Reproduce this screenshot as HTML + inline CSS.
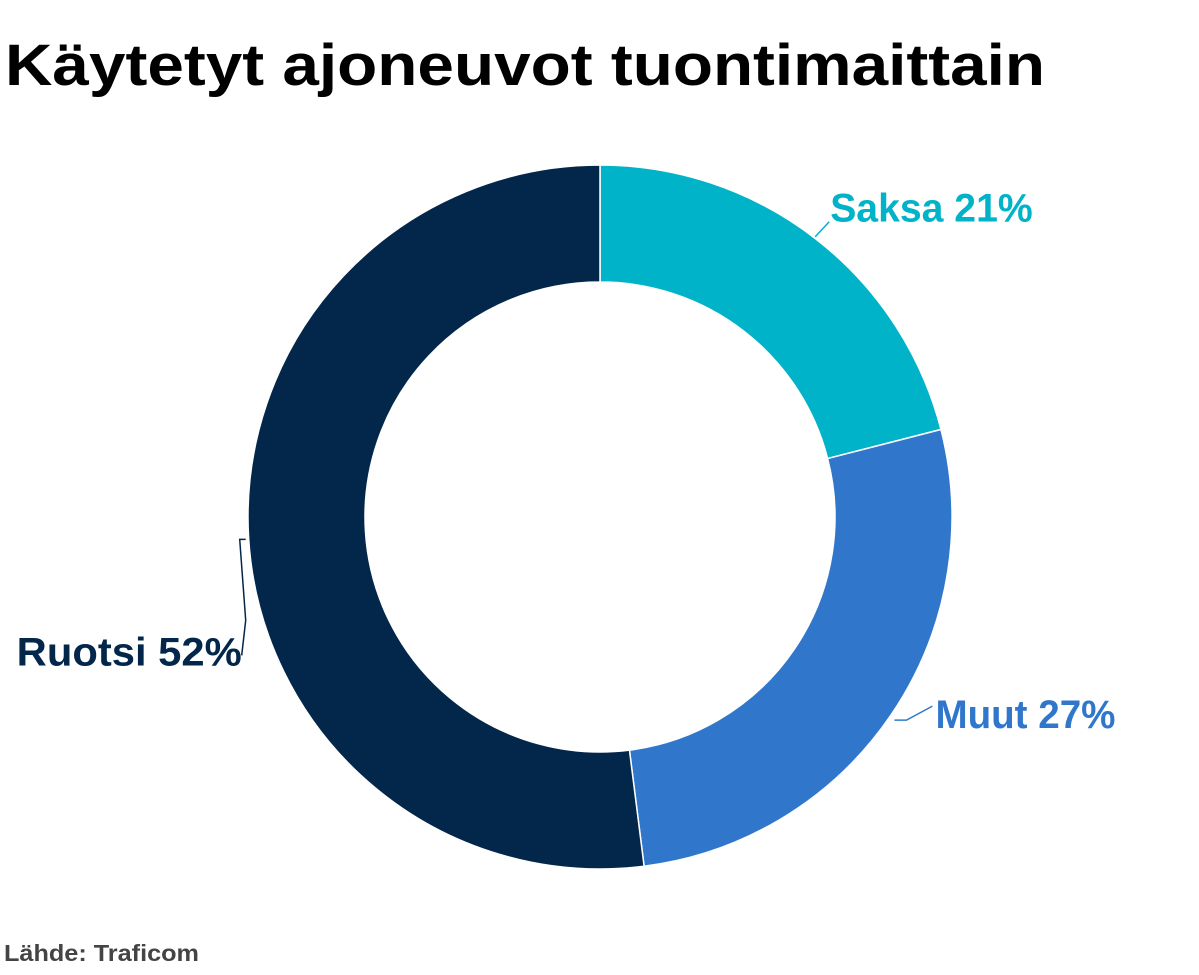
<!DOCTYPE html>
<html><head><meta charset="utf-8"><style>
body{margin:0;width:1199px;height:975px;background:#fff;font-family:"Liberation Sans",sans-serif;overflow:hidden}
svg{position:absolute;left:0;top:0}
</style></head><body>
<svg width="1199" height="975">
<text x="5" y="85" font-size="58" font-weight="bold" fill="#000" textLength="1040" lengthAdjust="spacingAndGlyphs">Käytetyt ajoneuvot tuontimaittain</text>
<g id="slices"></g>
<g id="labels"></g>
<text x="4" y="961" font-size="23" font-weight="bold" fill="#444" textLength="195" lengthAdjust="spacingAndGlyphs">Lähde: Traficom</text>
</svg>
<script>
const categories=["Saksa","Muut","Ruotsi"];
const values=[21,27,52];
const colors=["#00b3c8","#3077cc","#03264b"];
const cx=600,cy=517,R=352,r=235;
const ns="http://www.w3.org/2000/svg";
const total=values.reduce((a,b)=>a+b,0);
function pt(a,rad){return [cx+rad*Math.sin(a),cy-rad*Math.cos(a)];}
const gS=document.getElementById('slices'),gL=document.getElementById('labels');
let acc=0;
values.forEach((v,i)=>{
 const a0=acc/total*2*Math.PI;acc+=v;const a1=acc/total*2*Math.PI;
 const lg=(a1-a0)>Math.PI?1:0;
 const p0=pt(a0,R),p1=pt(a1,R),q1=pt(a1,r),q0=pt(a0,r);
 const p=document.createElementNS(ns,'path');
 p.setAttribute('d',`M${p0[0]},${p0[1]}A${R},${R} 0 ${lg} 1 ${p1[0]},${p1[1]}L${q1[0]},${q1[1]}A${r},${r} 0 ${lg} 0 ${q0[0]},${q0[1]}Z`);
 p.setAttribute('fill',colors[i]);p.setAttribute('stroke','#fff');p.setAttribute('stroke-width','1.5');
 
 
 gS.appendChild(p);
 const mid=(a0+a1)/2;
 const e=pt(mid,R+4);
 const t=document.createElementNS(ns,'text');
 t.setAttribute('font-size','40');t.setAttribute('font-weight','bold');t.setAttribute('fill',colors[i]);
 t.textContent=categories[i]+' '+v+'%';
 
 
 const l=document.createElementNS(ns,'path');
 l.setAttribute('fill','none');l.setAttribute('stroke',colors[i]);l.setAttribute('stroke-width','1.5');
 
 
 const w=(t.textContent.length)*22.5;
 t.setAttribute('textLength',w);t.setAttribute('lengthAdjust','spacingAndGlyphs');
 if(Math.sin(mid)>=0){
  if(e[1]<cy){
   l.setAttribute('d',`M${e[0]-3},${e[1]+1}L${e[0]+11},${e[1]-14}`);
   t.setAttribute('x',e[0]+12);t.setAttribute('y',e[1]-14);
  }else{
   l.setAttribute('d',`M${e[0]},${e[1]+3}L${e[0]+12},${e[1]+3}L${e[0]+38},${e[1]-11}`);
   t.setAttribute('x',e[0]+41);t.setAttribute('y',e[1]+11);
  }
 }else{
  l.setAttribute('d',`M${e[0]+1},${e[1]}L${e[0]-5},${e[1]}L${e[0]+1},${e[1]+81}L${e[0]-3},${e[1]+116}`);
  t.setAttribute('x',e[0]-3);t.setAttribute('y',e[1]+126);t.setAttribute('text-anchor','end');
 }
 gL.appendChild(l);gL.appendChild(t);
});
</script>
</body></html>
